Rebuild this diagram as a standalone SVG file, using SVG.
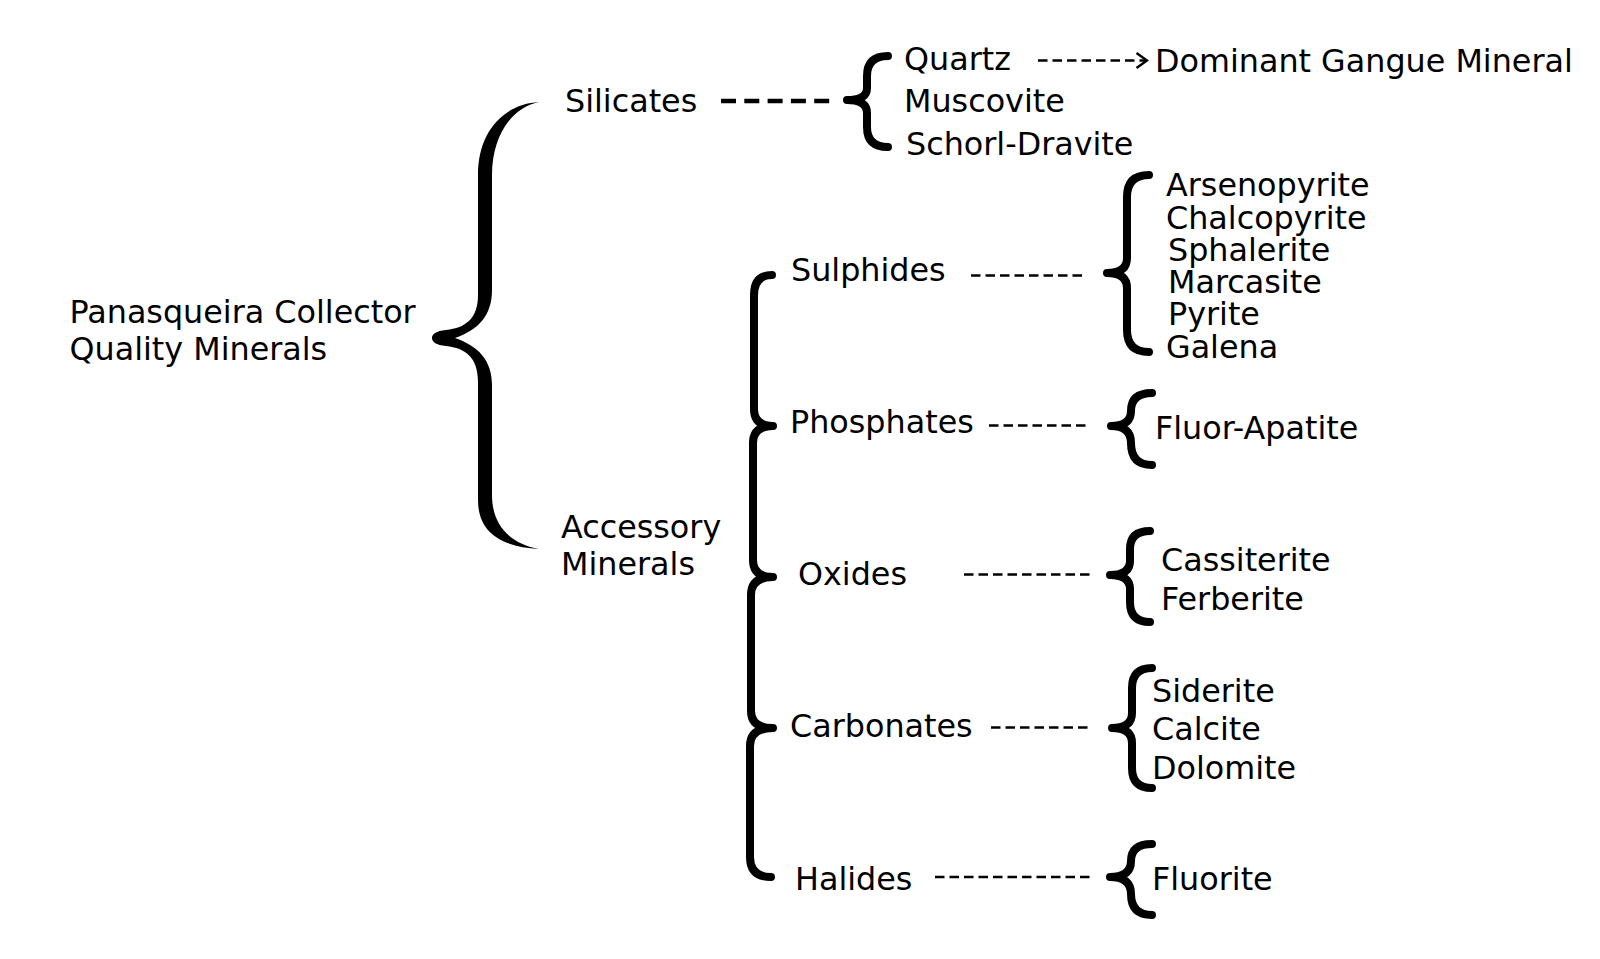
<svg xmlns="http://www.w3.org/2000/svg" width="1600" height="959" viewBox="0 0 1600 959">
<defs>
<style>
text{font-family:"DejaVu Sans","Verdana","Liberation Sans",sans-serif;font-size:31.8px;fill:#000}
.brace{fill:none;stroke:#000;stroke-width:8;stroke-linecap:round;stroke-linejoin:round}
.dash{stroke:#000;stroke-width:2.6;stroke-dasharray:9.5 5;fill:none}
.thick{stroke:#000;stroke-width:4.5;stroke-dasharray:15 8.3;fill:none}
</style>
<marker id="chev" viewBox="0 0 14 18" refX="12" refY="9" markerWidth="14" markerHeight="18" markerUnits="userSpaceOnUse" orient="auto">
<path d="M1.5,1.5 L12,9 L1.5,16.5" fill="none" stroke="#000" stroke-width="2.4"/>
</marker>
</defs>
<rect width="1600" height="959" fill="#fff"/>

<g id="root">
<text x="69.5" y="323">Panasqueira Collector</text>
<text x="69.5" y="360">Quality Minerals</text>
</g>

<g id="silicates"><text x="565" y="112">Silicates</text></g>
<g id="accessory"><text x="561" y="538">Accessory</text><text x="561" y="575">Minerals</text></g>

<g id="quartz"><text x="904" y="69.5">Quartz</text></g>
<g id="gangue"><text x="1155" y="71.5">Dominant Gangue Mineral</text></g>
<g id="muscovite"><text x="904" y="112">Muscovite</text></g>
<g id="schorl"><text x="906" y="155">Schorl-Dravite</text></g>

<g id="sulphides"><text x="791" y="281">Sulphides</text></g>
<g id="phosphates"><text x="790" y="432.5">Phosphates</text></g>
<g id="oxides"><text x="798" y="584.5">Oxides</text></g>
<g id="carbonates"><text x="790" y="736.5">Carbonates</text></g>
<g id="halides"><text x="795" y="889.5">Halides</text></g>

<g id="sulphide-minerals">
<text x="1166" y="196">Arsenopyrite</text>
<text x="1166" y="228.5">Chalcopyrite</text>
<text x="1168" y="260.5">Sphalerite</text>
<text x="1168" y="293">Marcasite</text>
<text x="1168" y="325">Pyrite</text>
<text x="1166" y="358">Galena</text>
</g>
<g id="phosphate-minerals"><text x="1155" y="438.5">Fluor-Apatite</text></g>
<g id="oxide-minerals"><text x="1161" y="570.5">Cassiterite</text><text x="1161" y="609.5">Ferberite</text></g>
<g id="carbonate-minerals"><text x="1152" y="702">Siderite</text><text x="1152" y="739.5">Calcite</text><text x="1152" y="778.5">Dolomite</text></g>
<g id="halide-minerals"><text x="1152" y="889.5">Fluorite</text></g>

<g id="connectors">
<path d="M539,102 C505,104 478,130 478,175 L478,295 C478,318 466,328 446,330 C436,331 432,334 432,338 C432,342 436,345 446,346 C466,348 478,358 478,382 L478,500 C478,535 505,547 539,549 C512,544 492,527 492,495 L492,385 C492,360 478,346 455,338 C478,330 492,316 492,290 L492,175 C492,138 510,108 539,102 Z" fill="#000"/>
<path class="thick" d="M721,101 L835,101"/>
<path class="brace" d="M888,56 Q867,56 867,76 L867,88 Q867,100 847,100 Q867,100 867,113 L867,127 Q867,147 888,147"/>
<path class="dash" d="M1038,60.5 L1147,60.5" marker-end="url(#chev)"/>
<path class="brace" d="M772,275 Q754,275 754,295 L754,409 Q754,426 773,426 Q753,426 753,443 L753,560 Q753,577 773,577 Q751,577 751,595 L751,711 Q751,728 773,728 Q750,728 750,746 L750,857 Q750,877 771,877"/>
<path class="dash" d="M971,275.5 L1084,275.5"/>
<path class="brace" d="M1149,175 Q1127,175 1127,197 L1127,258 Q1127,273 1107,273 Q1127,273 1127,288 L1127,330 Q1127,352 1149,352"/>
<path class="dash" d="M989,425.5 L1087,425.5"/>
<path class="brace" d="M1152,393 Q1131,393 1131,411 Q1131,426 1111,426 Q1131,426 1131,443 Q1131,465 1152,465"/>
<path class="dash" d="M964,574.5 L1090,574.5"/>
<path class="brace" d="M1150,531 Q1130,531 1130,549 L1130,561 Q1130,575 1110,575 Q1130,575 1130,589 L1130,602 Q1130,622 1150,622"/>
<path class="dash" d="M991,727.5 L1090,727.5"/>
<path class="brace" d="M1152,668 Q1132,668 1132,688 L1132,713 Q1132,728 1112,728 Q1132,728 1132,743 L1132,768 Q1132,788 1152,788"/>
<path class="dash" d="M935,877 L1090,877"/>
<path class="brace" d="M1152,844 Q1131,844 1131,861 Q1131,877 1110,877 Q1131,877 1131,894 Q1131,915 1152,915"/>
</g>
</svg>
